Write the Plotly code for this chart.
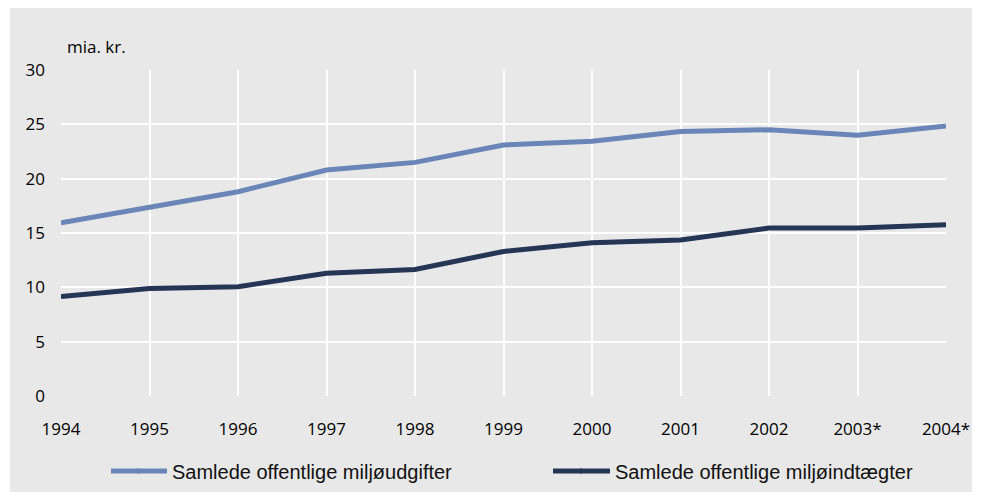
import plotly.graph_objects as go

years = [1994, 1995, 1996, 1997, 1998, 1999, 2000, 2001, 2002, 2003, 2004]
tick_labels = ["1994", "1995", "1996", "1997", "1998", "1999", "2000", "2001", "2002", "2003*", "2004*"]
udgifter = [15.95, 17.4, 18.8, 20.8, 21.5, 23.1, 23.45, 24.35, 24.5, 24.0, 24.85]
indtaegter = [9.15, 9.9, 10.05, 11.3, 11.65, 13.3, 14.1, 14.35, 15.45, 15.45, 15.75]
y_ticks = [0, 5, 10, 15, 20, 25, 30]

LIGHT = "#6a86b8"
DARK = "#243556"
TICK_FONT = dict(family="Open Sans", size=17, color="#000000")
LEG_FONT = dict(family="Liberation Sans", size=20, color="#111111")

W, H = 965, 484
L, R, T, B = 53, 27, 62, 96
PW, PH = W - L - R, H - T - B

fig = go.Figure()
fig.add_trace(go.Scatter(x=years, y=udgifter, mode="lines", name="Samlede offentlige miljøudgifter",
                         line=dict(color=LIGHT, width=5), legend="legend"))
fig.add_trace(go.Scatter(x=years, y=indtaegter, mode="lines", name="Samlede offentlige miljøindtægter",
                         line=dict(color=DARK, width=5), legend="legend2"))

leg_y = (388 - 463) / PH


def px_x(v):
    return (v - L) / PW


shapes = [dict(type="rect", xref="paper", yref="paper", x0=px_x(2), x1=px_x(964),
               y0=(388 - H) / PH, y1=1 + T / PH, fillcolor="#e8e8e8", line=dict(width=0), layer="below")]
# lengthen the legend line keys to match the reference
for x0, x1, col in [(103, 132, LIGHT), (545, 574, DARK)]:
    shapes.append(dict(type="line", xref="paper", yref="paper", x0=px_x(x0), x1=px_x(x1),
                       y0=leg_y, y1=leg_y, line=dict(color=col, width=5), layer="above"))

fig.update_layout(
    width=W, height=H,
    margin=dict(l=L, r=R, t=T, b=B, autoexpand=False),
    paper_bgcolor="white",
    plot_bgcolor="#dcdcdc",
    showlegend=True,
    legend=dict(orientation="h", x=px_x(124), xanchor="left", y=leg_y, yanchor="middle",
                font=LEG_FONT, bgcolor="rgba(0,0,0,0)"),
    legend2=dict(orientation="h", x=px_x(567), xanchor="left", y=leg_y, yanchor="middle",
                 font=LEG_FONT, bgcolor="rgba(0,0,0,0)"),
    xaxis=dict(range=[1994, 2004], tickmode="array", tickvals=years, ticktext=tick_labels,
               showgrid=True, gridcolor="white", gridwidth=2, zeroline=False, showline=False,
               tickfont=TICK_FONT, ticks="", ticklabelstandoff=21),
    yaxis=dict(range=[0, 30], tickmode="array", tickvals=y_ticks,
               showgrid=True, gridcolor="white", gridwidth=2, zeroline=False, showline=False,
               tickfont=TICK_FONT, ticks="", ticklabelstandoff=15),
    shapes=shapes,
    annotations=[dict(text="mia. kr.", xref="paper", yref="paper", x=4 / PW, y=1 + 23 / PH,
                      xanchor="left", yanchor="middle", showarrow=False,
                      font=dict(family="Open Sans", size=17, color="#000000"))],
)

fig.write_html("out.html")
